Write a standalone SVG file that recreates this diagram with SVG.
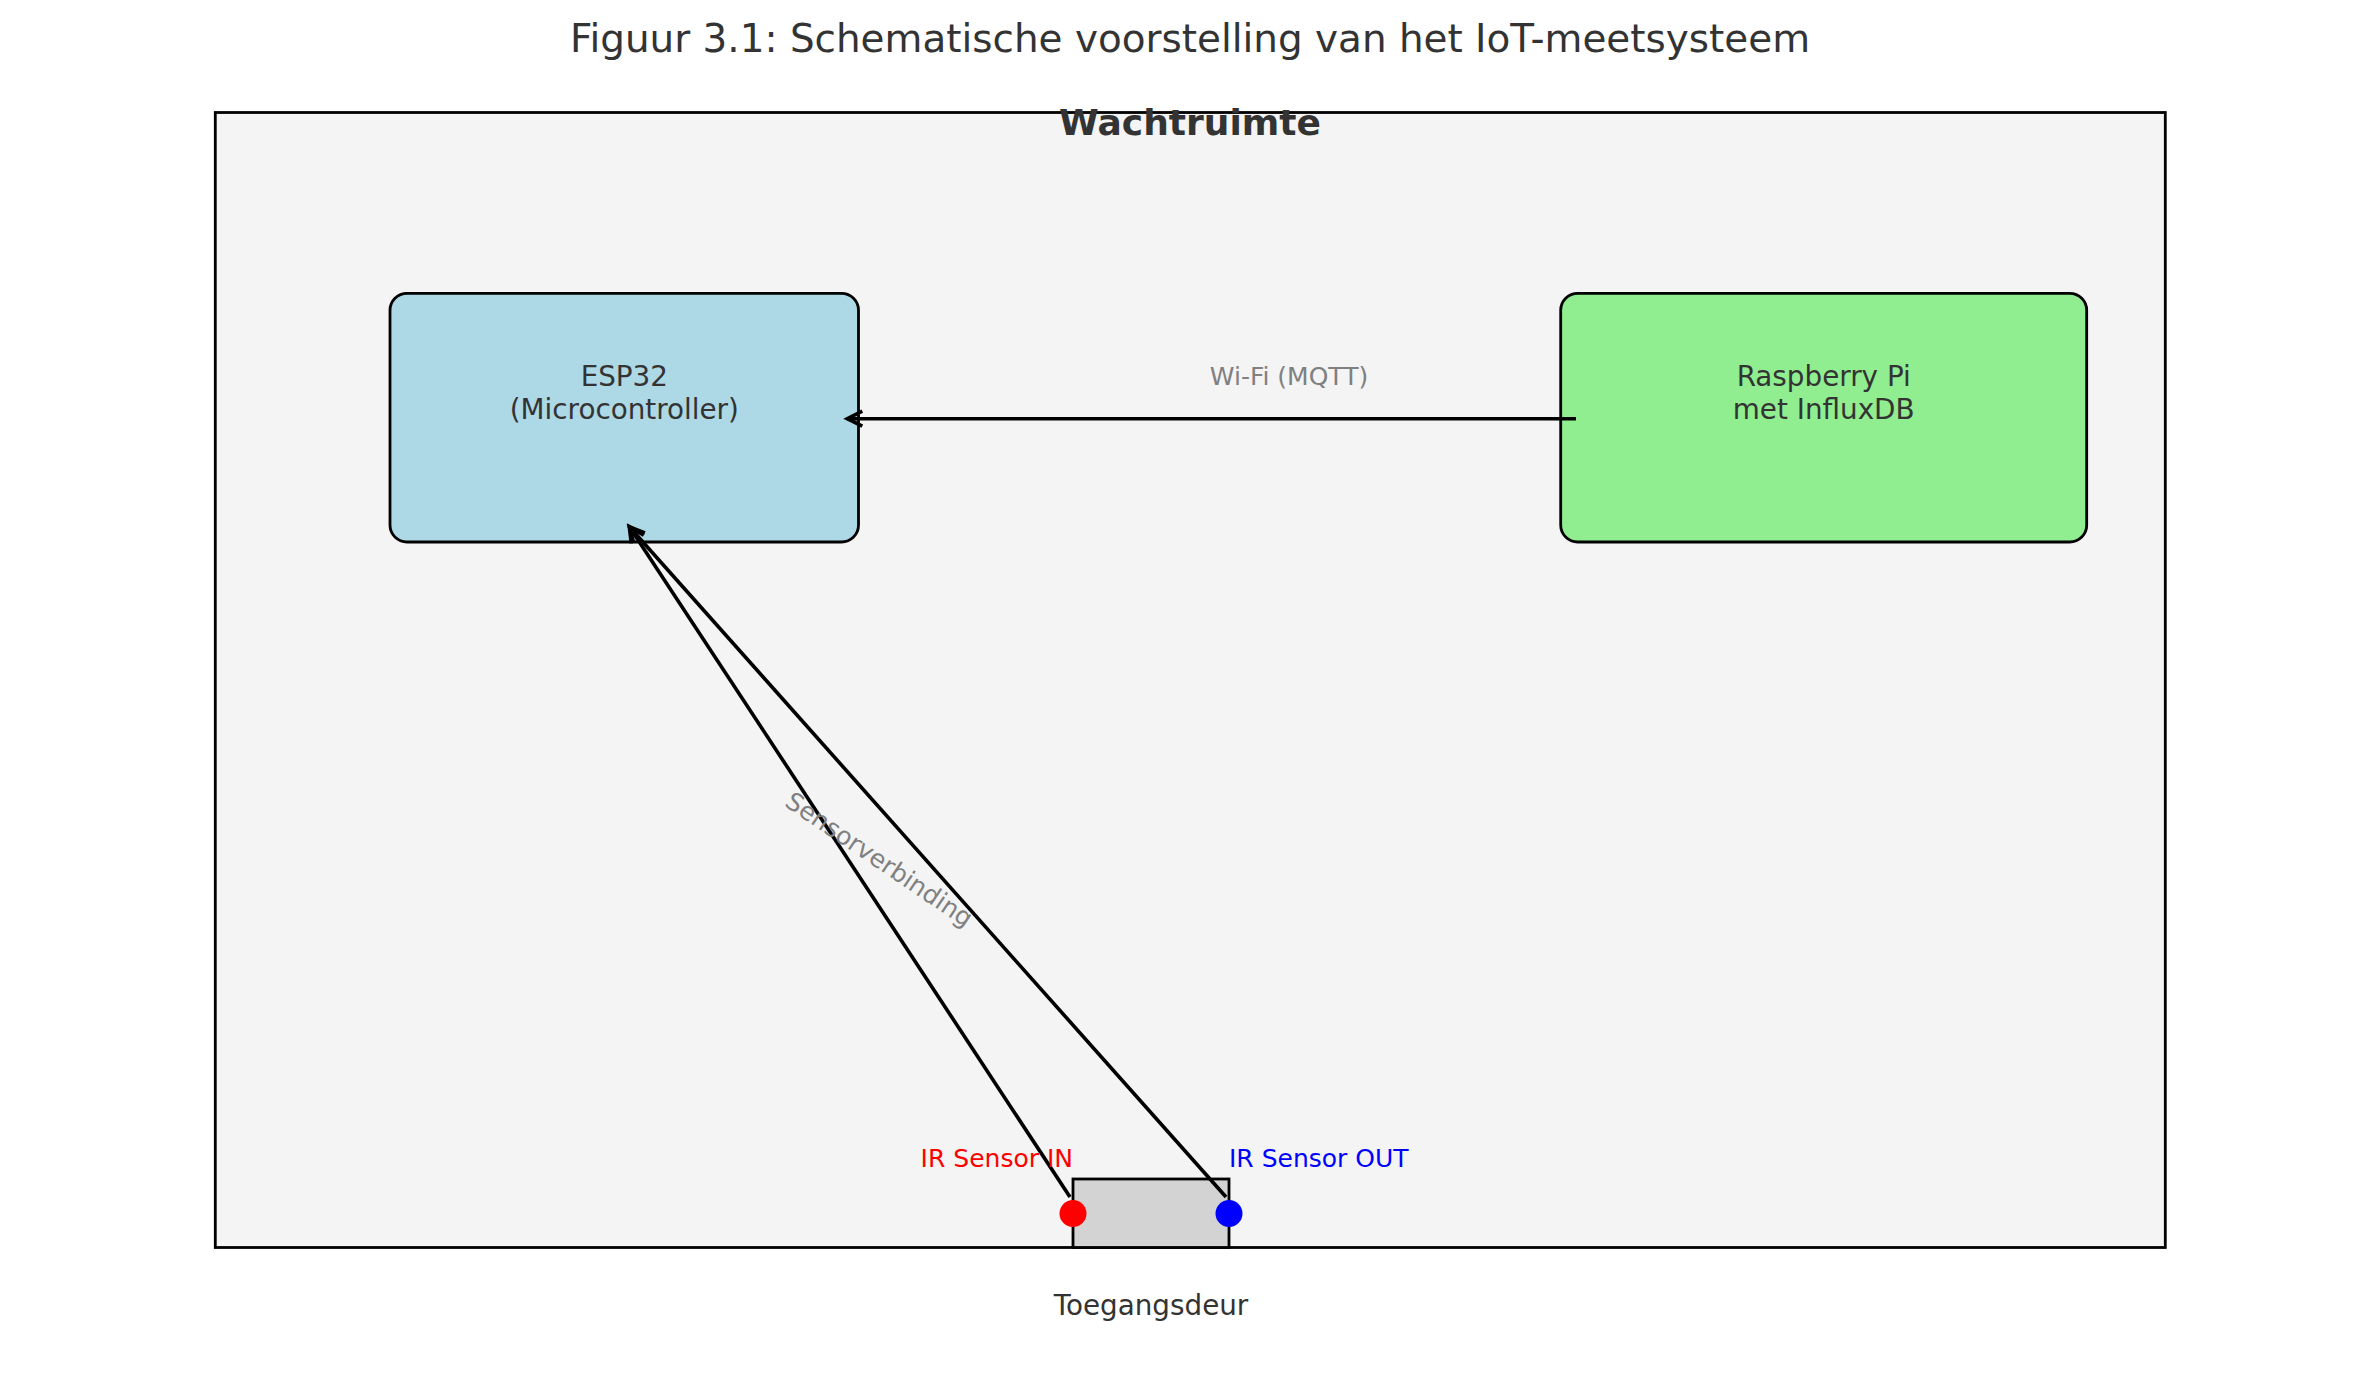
<svg xmlns="http://www.w3.org/2000/svg" width="2379" height="1380" viewBox="0 0 2379 1380">
<style>
  text { font-family: "DejaVu Sans", "Liberation Sans", sans-serif; }
  .dark { fill: #333333; }
  .node { font-size: 27.8px; text-anchor: middle; }
  .small { font-size: 25px; }
  .lbl { fill: #808080; }
  .box { stroke: #000000; stroke-width: 2.8; }
  .conn { fill: none; stroke: #000000; stroke-width: 3.6; marker-end: url(#chev); }
</style>
<defs>
  <marker id="chev" markerUnits="userSpaceOnUse" markerWidth="40" markerHeight="40" viewBox="-20 -20 40 40" refX="0" refY="0" orient="auto" overflow="visible">
    <path d="M-15,-7.5 L0,0 L-15,7.5" fill="none" stroke="#000000" stroke-width="3.6" stroke-linejoin="miter"/>
  </marker>
</defs>
<rect x="0" y="0" width="2379" height="1380" fill="#ffffff"/>
<g id="title">
  <text x="1190" y="51.5" class="dark" font-size="38.9" text-anchor="middle">Figuur 3.1: Schematische voorstelling van het IoT-meetsysteem</text>
</g>
<g id="wachtruimte">
  <rect x="215.3" y="112.5" width="1950" height="1135" fill="#f4f4f4" class="box"/>
</g>
<g id="door">
  <rect x="1073" y="1179" width="156" height="68.5" fill="#d3d3d3" class="box"/>
  <text x="1151" y="1315" class="dark node">Toegangsdeur</text>
</g>
<g id="esp32">
  <rect x="390" y="293.3" width="468.5" height="248.7" rx="17" ry="17" fill="#add8e6" class="box"/>
  <text x="624.3" y="385.7" class="dark node">ESP32</text>
  <text x="624.3" y="418.5" class="dark node">(Microcontroller)</text>
</g>
<g id="raspberrypi">
  <rect x="1560.7" y="293.3" width="526" height="248.7" rx="17" ry="17" fill="#90ee90" class="box"/>
  <text x="1823.7" y="385.7" class="dark node">Raspberry Pi</text>
  <text x="1823.7" y="418.5" class="dark node">met InfluxDB</text>
</g>
<g id="connectors">
  <line x1="1576" y1="418.7" x2="847.3" y2="418.7" class="conn"/>
  <text x="1289" y="385" class="small lbl" text-anchor="middle">Wi-Fi (MQTT)</text>
  <line x1="1070" y1="1197" x2="629.3" y2="526.7" class="conn"/>
  <line x1="1226" y1="1197" x2="629.3" y2="526.7" class="conn"/>
  <text transform="translate(879,860) rotate(34)" x="0" y="8" class="small lbl" text-anchor="middle">Sensorverbinding</text>
</g>
<g id="sensor-in">
  <circle cx="1073" cy="1213.5" r="13.5" fill="#ff0000"/>
  <text x="1073" y="1167" class="small" fill="#ff0000" text-anchor="end">IR Sensor IN</text>
</g>
<g id="sensor-out">
  <circle cx="1229" cy="1213.5" r="13.5" fill="#0000ff"/>
  <text x="1229" y="1167" class="small" fill="#0000ff" text-anchor="start">IR Sensor OUT</text>
</g>
<g id="wachtruimte-label">
  <text x="1190" y="135" class="dark" font-size="36" font-weight="bold" text-anchor="middle">Wachtruimte</text>
</g>
</svg>
